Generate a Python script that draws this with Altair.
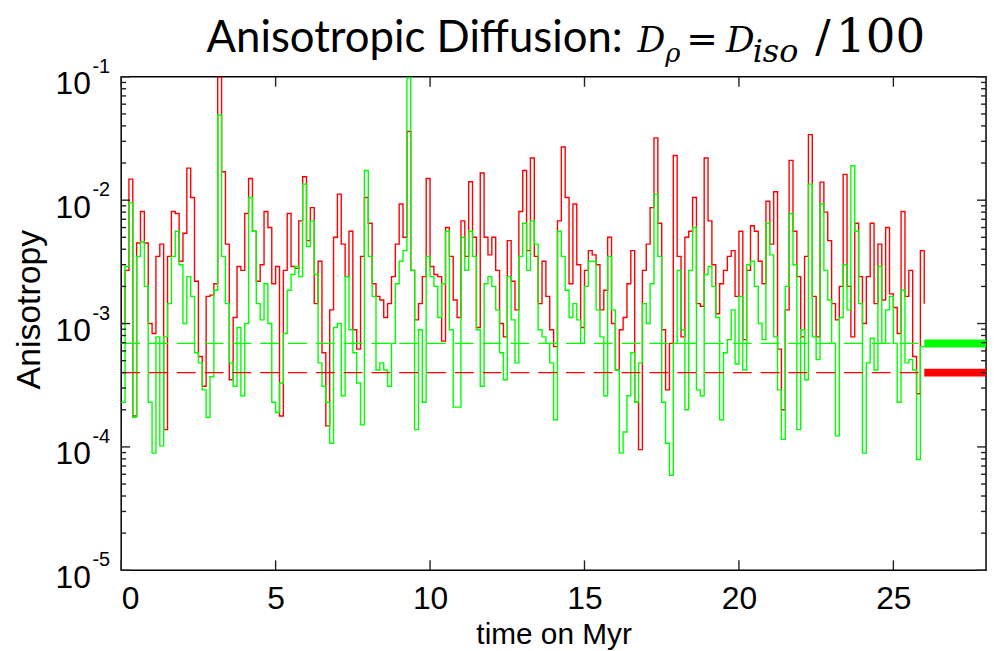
import altair as alt
import pandas as pd

# ---------------- data ----------------
# time grid step (Myr) of the stairs traces
step = 0.125

red = [
    1.0e-3, 2.7e-3, 1.48e-2, 1.78e-4, 4.5e-3, 8.1e-3, 4.5e-3, 1.0e-3, 8.3e-4, 3.5e-3,
    4.4e-3, 1.38e-4, 3.5e-3, 8.1e-3, 7.8e-3, 3.2e-3, 5.4e-3, 1.82e-2, 1.05e-2, 2.2e-3,
    5.4e-4, 3.1e-4, 1.66e-3, 1.7e-3, 2.1e-3, 1.0e-1, 1.7e-2, 4.4e-3, 3.5e-4, 1.12e-3,
    2.9e-3, 2.7e-3, 7.8e-3, 1.5e-2, 5.6e-3, 2.2e-3, 3.0e-3, 8.1e-3,
    6.0e-3, 2.1e-3, 2.9e-3, 1.78e-4, 2.7e-3, 7.8e-3, 2.9e-3, 2.8e-3, 6.8e-3, 1.55e-2,
    4.7e-3, 8.7e-3, 1.45e-3, 3.2e-3, 5.8e-4, 1.48e-4, 1.29e-3, 5.0e-3, 1.12e-2, 4.4e-3,
    2.4e-3, 5.6e-3, 8.9e-4, 6.2e-4, 3.5e-3, 1.05e-2, 6.5e-3, 2.1e-3, 1.66e-3, 1.55e-3,
    1.12e-3, 1.45e-3, 2.4e-3, 4.4e-3, 9.3e-3, 5.0e-3, 3.6e-2, 2.7e-3,
    1.07e-3, 1.45e-3, 2.4e-3, 1.5e-2, 2.9e-3, 2.5e-3, 2.4e-3, 7.2e-4, 6.0e-3, 3.5e-3,
    1.55e-3, 1.12e-3, 6.8e-3, 3.5e-3, 1.41e-2, 5.0e-3, 9.3e-4, 1.66e-2, 5.0e-3, 3.6e-3,
    5.0e-3, 2.7e-3, 1.0e-3, 7.8e-4, 4.7e-3, 2.2e-3, 1.29e-3, 8.1e-3, 1.74e-2, 3.9e-3,
    2.2e-2, 3.5e-3, 1.45e-3, 3.2e-3, 1.66e-3, 8.9e-4, 6.5e-4,
    6.8e-3, 2.7e-2, 1.05e-2, 2.1e-3, 9.3e-3, 3.0e-3, 9.3e-4, 2.7e-3, 3.9e-3, 3.6e-3,
    3.0e-3, 1.29e-3, 1.86e-3, 5.0e-3, 1.0e-3, 4.2e-4, 8.9e-4, 1.12e-3, 2.1e-3, 3.9e-3,
    2.3e-4, 9.5e-5, 2.7e-3, 4.4e-3, 8.7e-3, 3.2e-2, 6.5e-3, 8.9e-4, 2.9e-4, 6.9e-4,
    2.3e-2, 3.5e-3, 7.8e-4, 5.0e-3, 5.6e-3, 1.05e-2, 1.45e-3,
    1.38e-3, 2.2e-2, 6.8e-3, 3.0e-3, 1.2e-3, 2.1e-3, 2.7e-3, 3.5e-3, 3.9e-3, 1.66e-3,
    5.6e-3, 7.4e-4, 2.7e-3, 6.2e-3, 5.6e-3, 3.2e-3, 2.1e-3, 9.8e-3, 4.4e-3, 1.17e-2,
    6.2e-4, 2.0e-4, 1.29e-3, 2.1e-2, 5.6e-3, 2.4e-3, 7.8e-4, 3.5e-3, 3.4e-2, 1.66e-3,
    7.8e-4, 1.4e-2, 8.0e-3, 4.7e-3, 1.45e-3, 1.07e-3, 2.0e-3,
    1.62e-2, 2.0e-3, 7.8e-4, 6.5e-3, 2.4e-3, 1.0e-3, 2.4e-3, 6.5e-3, 1.45e-3, 4.4e-3,
    1.55e-3, 6.0e-3, 1.74e-3, 1.35e-3, 8.3e-4, 8.1e-3, 1.66e-3, 2.7e-3, 5.4e-4, 2.7e-4,
    3.9e-3, 1.45e-3,
]

green = [
    2.3e-4, 2.9e-3, 9.5e-3, 1.74e-4, 3.5e-3, 4.6e-3, 2.0e-3, 2.3e-4, 8.9e-5, 7.8e-4,
    1.02e-4, 7.8e-4, 1.45e-3, 3.5e-3, 5.6e-3, 3.0e-3, 1.0e-3, 2.4e-3, 1.66e-3, 5.8e-4,
    4.8e-4, 2.9e-4, 1.74e-4, 3.7e-4, 1.86e-3, 4.9e-2, 3.5e-3, 1.45e-3, 4.8e-4, 3.1e-4,
    9.3e-4, 2.6e-4, 1.0e-3, 1.05e-2, 5.6e-3, 1.45e-3, 1.07e-3, 2.1e-3,
    1.0e-3, 2.3e-4, 1.9e-4, 3.3e-4, 8.3e-4, 1.86e-3, 2.5e-3, 2.9e-3, 2.4e-3, 1.35e-2,
    4.2e-3, 6.8e-3, 2.5e-3, 4.8e-4, 3.1e-4, 2.3e-4, 1.07e-4, 9.3e-4, 1.0e-3, 2.6e-4,
    2.4e-3, 8.9e-4, 5.8e-4, 3.3e-4, 1.51e-4, 1.74e-2, 3.5e-3, 1.66e-3, 4.2e-4, 4.8e-4,
    4.2e-4, 3.1e-4, 6.9e-4, 2.1e-3, 3.2e-3, 3.9e-3, 9.8e-2, 2.7e-3,
    1.38e-4, 8.9e-4, 2.3e-4, 3.5e-3, 2.4e-3, 2.0e-3, 1.12e-3, 2.1e-3, 5.6e-3, 8.9e-4,
    2.1e-4, 2.1e-4, 5.0e-3, 2.7e-3, 5.6e-3, 3.5e-3, 8.9e-4, 3.1e-4, 2.1e-3, 2.4e-3,
    2.0e-3, 1.29e-3, 5.8e-4, 3.5e-4, 2.4e-3, 1.07e-3, 4.8e-4, 3.5e-3, 6.5e-3, 2.7e-3,
    6.8e-3, 4.4e-3, 8.9e-4, 7.8e-4, 6.9e-4, 4.8e-4, 1.66e-4,
    5.6e-3, 3.5e-3, 1.86e-3, 1.12e-3, 1.45e-3, 1.07e-3, 6.9e-4, 2.0e-3, 3.2e-3, 3.2e-3,
    1.29e-3, 7.8e-4, 2.6e-4, 3.5e-3, 1.29e-3, 4.2e-4, 8.9e-5, 1.32e-4, 2.6e-4, 5.8e-4,
    2.3e-4, 4.8e-4, 1.45e-3, 1.0e-3, 2.1e-3, 1.12e-2, 3.5e-3, 2.3e-4, 1.07e-4, 5.9e-5,
    6.9e-4, 2.7e-3, 8.9e-4, 2.0e-4, 2.7e-3, 6.0e-3, 2.9e-4,
    2.6e-4, 2.5e-3, 2.9e-3, 2.0e-3, 1.12e-3, 1.66e-4, 5.8e-4, 7.4e-4, 1.29e-3, 4.7e-4,
    1.66e-3, 4.2e-4, 3.0e-3, 3.2e-3, 2.0e-3, 1.0e-3, 7.4e-4, 6.5e-3, 3.6e-3, 7.8e-4,
    2.9e-4, 1.15e-4, 2.0e-3, 7.8e-3, 3.0e-3, 1.38e-4, 8.9e-4, 3.5e-4, 1.35e-2, 7.8e-4,
    5.1e-4, 9.3e-3, 2.7e-3, 1.55e-3, 6.9e-4, 1.23e-4, 1.12e-3,
    3.0e-3, 1.29e-3, 1.9e-2, 5.6e-3, 1.45e-3, 8.9e-5, 4.8e-4, 7.6e-4, 4.2e-4, 2.9e-3,
    6.9e-4, 1.29e-3, 1.66e-3, 6.9e-4, 2.3e-4, 1.86e-3, 4.8e-4, 5.1e-4, 4.2e-4, 7.9e-5,
    6.5e-4, 6.5e-4,
]

time = [round(i * step, 3) for i in range(len(red))]

# median levels (dashed) and the end markers
level_start = [0.0]
level_end = [26.0]
marker_end = [28.0]
red_level = [4.0e-4]
green_level = [6.9e-4]

x_ticks = [0, 5, 10, 15, 20, 25]
y_major = [1e-5, 1e-4, 1e-3, 1e-2, 1e-1]
y_exp = ["-5", "-4", "-3", "-2", "-1"]
y_minor = [k * 10.0 ** e for e in (-5, -4, -3, -2) for k in range(2, 10)]

# ---------------- chart ----------------
W, H = 871, 497
RED, GREEN = "#ff0000", "#00ff00"

xs = alt.Scale(domain=[0, 28], nice=False, zero=False)
ys = alt.Scale(type="log", domain=[1e-5, 1e-1], nice=False)
xaxis = alt.Axis(values=x_ticks, title="time on Myr", format="d",
                 titleY=74, titleBaseline="alphabetic")
yaxis = alt.Axis(values=y_major, title="Anisotropy", labelExpr="'10'",
                 titleX=-92, titleY=234, titleAngle=270,
                 titleAlign="center", titleBaseline="middle")


def X(f):
    return alt.X(f, type="quantitative", scale=xs, axis=xaxis)


def Y(f):
    return alt.Y(f, type="quantitative", scale=ys, axis=yaxis)


series = pd.DataFrame({"time": time, "red": red, "green": green})
levels = pd.DataFrame({"start": level_start, "end": level_end, "right": marker_end,
                       "red": red_level, "green": green_level})
xt = pd.DataFrame({"t": x_ticks})
ytm = pd.DataFrame({"v": y_major, "e": y_exp})
ytn = pd.DataFrame({"v": y_minor})
one = pd.DataFrame({"a": [0]})

red_line = alt.Chart(series).mark_line(
    color=RED, strokeWidth=1.4, interpolate="step-after", clip=True
).encode(x=X("time"), y=Y("red"))
green_line = alt.Chart(series).mark_line(
    color=GREEN, strokeWidth=1.4, interpolate="step-after", clip=True
).encode(x=X("time"), y=Y("green"))

red_dash = alt.Chart(levels).mark_rule(color=RED, strokeWidth=1.4, strokeDash=[19, 9]).encode(
    x=X("start"), x2="end", y=Y("red"))
green_dash = alt.Chart(levels).mark_rule(color=GREEN, strokeWidth=1.4, strokeDash=[19, 9]).encode(
    x=X("start"), x2="end", y=Y("green"))
red_mark = alt.Chart(levels).mark_rule(color=RED, strokeWidth=8).encode(
    x=X("end"), x2="right", y=Y("red"))
green_mark = alt.Chart(levels).mark_rule(color=GREEN, strokeWidth=8).encode(
    x=X("end"), x2="right", y=Y("green"))

tick_color = "#222222"
xt_bottom = alt.Chart(xt).mark_rule(color=tick_color, strokeWidth=1.4).encode(
    x=X("t"), y=alt.value(H), y2=alt.value(H - 10))
xt_top = alt.Chart(xt).mark_rule(color=tick_color, strokeWidth=1.4).encode(
    x=X("t"), y=alt.value(0), y2=alt.value(10))
yt_left = alt.Chart(ytm).mark_rule(color=tick_color, strokeWidth=1.4).encode(
    y=Y("v"), x=alt.value(0), x2=alt.value(9))
yt_right = alt.Chart(ytm).mark_rule(color=tick_color, strokeWidth=1.4).encode(
    y=Y("v"), x=alt.value(W), x2=alt.value(W - 9))
yn_left = alt.Chart(ytn).mark_rule(color=tick_color, strokeWidth=1.4).encode(
    y=Y("v"), x=alt.value(0), x2=alt.value(5))
yn_right = alt.Chart(ytn).mark_rule(color=tick_color, strokeWidth=1.4).encode(
    y=Y("v"), x=alt.value(W), x2=alt.value(W - 5))

exponents = alt.Chart(ytm).mark_text(
    align="left", baseline="middle", dy=-10, fontSize=20, font="Liberation Sans", color="black"
).encode(y=Y("v"), x=alt.value(-29), text="e:N")


def piece(txt, x, y, size, font, style="normal"):
    return alt.Chart(one).mark_text(
        align="left", baseline="alphabetic", fontSize=size, font=font,
        fontStyle=style, color="black"
    ).encode(x=alt.value(x), y=alt.value(y), text=alt.value(txt))


MATH = "DejaVu Serif"
title_parts = [
    piece("Anisotropic Diffusion:", 86, -25, 44, "Lato"),
    piece("D", 520, -25, 35, MATH, "italic"),
    piece("\u03c1", 548, -15, 26, MATH, "italic"),
    piece("=", 569, -25, 38, MATH),
    piece("D", 609, -25, 36, MATH, "italic"),
    piece("iso", 636, -15, 32, MATH, "italic"),
    piece("/", 699, -25, 46, MATH),
    piece("100", 720, -25, 47, MATH),
]

chart = alt.layer(
    red_line, green_line, red_dash, green_dash, red_mark, green_mark,
    xt_bottom, xt_top, yt_left, yt_right, yn_left, yn_right, exponents,
    *title_parts
).properties(
    width=W, height=H,
    autosize=alt.AutoSizeParams(type="none"),
    padding={"left": 114, "top": 67, "right": 4, "bottom": 80},
).configure_view(
    stroke="black", strokeWidth=1.5
).configure_axis(
    domain=False, ticks=False, grid=False, labelColor="black", titleColor="black",
    labelFont="Liberation Sans", titleFont="Liberation Sans", titleFontWeight="normal",
    labelFontSize=32, titleFontSize=30,
).configure_axisX(
    labelPadding=13
).configure_axisY(
    labelPadding=31, labelOffset=7, titleFontSize=34
)

chart.save("out.html", embed_options={"renderer": "svg", "actions": False})
